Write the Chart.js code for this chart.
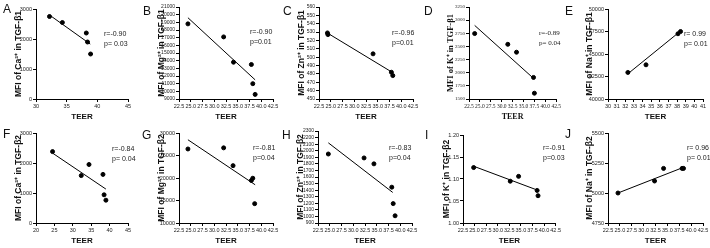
<!DOCTYPE html>
<html>
<head>
<meta charset="utf-8">
<script src="https://cdn.jsdelivr.net/npm/chart.js@4.4.0/dist/chart.umd.min.js"></script>
<style>
body { margin: 0; background: #fff; width: 710px; height: 248px; position: relative; overflow: hidden; }
canvas { position: absolute; }
.letter { position: absolute; font: 12px 'Liberation Sans', Arial, sans-serif; line-height: 12px; color: #111; }
.stat { position: absolute; font: 7px 'Liberation Sans Narrow', 'Liberation Sans', sans-serif; line-height: 10px; color: #222; white-space: pre; }
.serif { font-family: 'Liberation Serif', serif; }
</style>
</head>
<body>
<script>
// data: TEER (x) vs MFI (y), plus the drawn fit line ends
const teerA = [32.2, 34.3, 38.2, 38.4, 38.9];
const mfiA = [2750, 2550, 2200, 1900, 1500];
const fitTeerA = [32.2, 38.85];
const fitMfiA = [2800, 1830];

const teerB = [24.4, 32.0, 34.1, 37.9, 38.2, 38.7];
const mfiB = [18800, 17100, 13800, 13500, 11000, 9600];
const fitTeerB = [24.4, 38.7];
const fitMfiB = [19600, 11500];

const teerC = [24.3, 24.4, 34.0, 37.9, 38.2];
const mfiC = [529, 527, 504, 482, 478];
const fitTeerC = [24.4, 38.2];
const fitMfiC = [528.5, 481.5];

const teerD = [23.8, 31.4, 33.4, 37.3, 37.5];
const mfiD = [2745, 2540, 2390, 1910, 1610];
const fitTeerD = [23.8, 37.4];
const fitMfiD = [2900, 1885];

const teerE = [32.3, 34.4, 38.1, 38.4];
const mfiE = [42950, 43800, 47250, 47500];
const fitTeerE = [32.3, 38.4];
const fitMfiE = [42800, 47550];

const teerF = [24.5, 32.3, 34.4, 38.2, 38.5, 39.0];
const mfiF = [2380, 1580, 1950, 1620, 940, 760];
const fitTeerF = [24.5, 39.0];
const fitMfiF = [2330, 1130];

const teerG = [24.4, 32.0, 34.0, 37.9, 38.2, 38.6];
const mfiG = [26450, 26700, 22750, 19450, 19950, 14300];
const fitTeerG = [24.4, 38.7];
const fitMfiG = [28500, 18500];

const teerH = [24.7, 32.3, 34.4, 38.2, 38.5, 38.9];
const mfiH = [1950, 1890, 1800, 1445, 1195, 1010];
const fitTeerH = [24.7, 38.4];
const fitMfiH = [2120, 1365];

const teerI = [24.8, 32.7, 34.5, 38.5, 38.7];
const mfiI = [1.126, 1.095, 1.106, 1.074, 1.062];
const fitTeerI = [24.8, 38.5];
const fitMfiI = [1.129, 1.075];

const teerJ = [24.6, 32.3, 34.2, 38.1, 38.4];
const mfiJ = [5000, 5100, 5205, 5205, 5205];
const fitTeerJ = [24.6, 38.4];
const fitMfiJ = [5000, 5214];

// tick labels
const teerTicks = ['22.5', '25.0', '27.5', '30.0', '32.5', '35.0', '37.5', '40.0', '42.5'];
const xTicksA = ['30', '35', '40', '45'];
const xTicksE = ['30', '31', '32', '33', '34', '35', '36', '37', '38', '39', '40', '41'];
const xTicksF = ['20', '25', '30', '35', '40', '45'];
const yTicksA = ['0', '1000', '2000', '3000'];
const yTicksB = ['9000', '10000', '11000', '12000', '13000', '14000', '15000', '16000', '17000', '18000', '19000', '20000', '21000'];
const yTicksC = ['450', '460', '470', '480', '490', '500', '510', '520', '530', '540', '550', '560'];
const yTicksD = ['1500', '1750', '2000', '2250', '2500', '2750', '3000', '3250'];
const yTicksE = ['40000', '42500', '45000', '47500', '50000'];
const yTicksG = ['10000', '15000', '20000', '25000', '30000'];
const yTicksH = ['900', '1000', '1100', '1200', '1300', '1400', '1500', '1600', '1700', '1800', '1900', '2000', '2100', '2200', '2300'];
const yTicksI = ['1.00', '1.05', '1.10', '1.15', '1.20'];
const yTicksJ = ['4750', '5000', '5250', '5500'];

const panelIds = ['A', 'B', 'C', 'D', 'E', 'F', 'G', 'H', 'I', 'J'];
const yTitles = [
  'MFI of Ca²⁺ in TGF-β1', 'MFI of Mg²⁺ in TGF-β1', 'MFI of Zn²⁺ in TGF-β1', 'MFI of K⁺ in TGF-β1', 'MFI of Na⁺ in TGF-β1',
  'MFI of Ca²⁺ in TGF-β2', 'MFI of Mg²⁺ in TGF-β2', 'MFI of Zn²⁺ in TGF-β2', 'MFI of K⁺ in TGF-β2', 'MFI of Na⁺ in TGF-β2'
];
const rTexts = ['r=-0.90', 'r=-0.90', 'r=-0.96', 'r=-0.89', 'r= 0.99', 'r=-0.84', 'r=-0.81', 'r=-0.83', 'r=-0.91', 'r= 0.96'];
const pTexts = ['p= 0.03', 'p=0.01', 'p=0.01', 'p= 0.04', 'p= 0.01', 'p= 0.04', 'p=0.04', 'p=0.04', 'p=0.03', 'p= 0.01'];

// layout of each panel (pixel boxes of the axes)
const panels = [
  { left: 0,   top: 0,   w: 142, ax: 36,  at: 9,   ar: 128, ab: 99,  tx: 19,  sx: 104, sy: 29,  lx: 3,   ly: 3,   x: teerA, y: mfiA, fx: fitTeerA, fy: fitMfiA, xt: xTicksA, yt: yTicksA },
  { left: 140, top: 0,   w: 142, ax: 179, at: 7,   ar: 273, ab: 99,  tx: 161.5, sx: 250, sy: 27, lx: 143, ly: 5,   x: teerB, y: mfiB, fx: fitTeerB, fy: fitMfiB, xt: teerTicks, yt: yTicksB },
  { left: 280, top: 0,   w: 142, ax: 319, at: 7,   ar: 413, ab: 99,  tx: 302, sx: 392, sy: 28,  lx: 283, ly: 5,   x: teerC, y: mfiC, fx: fitTeerC, fy: fitMfiC, xt: teerTicks, yt: yTicksC },
  { left: 420, top: 0,   w: 142, ax: 469, at: 7,   ar: 563, ab: 99,  tx: 451, sx: 539, sy: 28,  lx: 424, ly: 5,   x: teerD, y: mfiD, fx: fitTeerD, fy: fitMfiD, xt: teerTicks, yt: yTicksD, serif: true },
  { left: 560, top: 0,   w: 150, ax: 608, at: 9,   ar: 703, ab: 99,  tx: 590, sx: 684, sy: 29,  lx: 565, ly: 5,   x: teerE, y: mfiE, fx: fitTeerE, fy: fitMfiE, xt: xTicksE, yt: yTicksE },
  { left: 0,   top: 124, w: 142, ax: 36,  at: 133, ar: 128, ab: 223, tx: 19,  sx: 112, sy: 144, lx: 3,   ly: 128, x: teerF, y: mfiF, fx: fitTeerF, fy: fitMfiF, xt: xTicksF, yt: yTicksA },
  { left: 140, top: 124, w: 142, ax: 179, at: 133, ar: 273, ab: 223, tx: 161.5, sx: 253, sy: 143, lx: 142, ly: 129, x: teerG, y: mfiG, fx: fitTeerG, fy: fitMfiG, xt: teerTicks, yt: yTicksG },
  { left: 280, top: 124, w: 142, ax: 318, at: 131, ar: 412, ab: 223, tx: 300.5, sx: 389, sy: 143, lx: 282, ly: 129, x: teerH, y: mfiH, fx: fitTeerH, fy: fitMfiH, xt: teerTicks, yt: yTicksH },
  { left: 420, top: 124, w: 142, ax: 463, at: 135, ar: 557, ab: 223, tx: 447, sx: 543, sy: 143, lx: 425, ly: 129, x: teerI, y: mfiI, fx: fitTeerI, fy: fitMfiI, xt: teerTicks, yt: yTicksI },
  { left: 560, top: 124, w: 150, ax: 608, at: 133, ar: 703, ab: 223, tx: 590, sx: 687, sy: 143, lx: 565, ly: 128, x: teerJ, y: mfiJ, fx: fitTeerJ, fy: fitMfiJ, xt: teerTicks, yt: yTicksJ }
];

const H = 124;

function tickSet(labels) {
  return function (scale) {
    scale.ticks = labels.map(function (t) { return { value: parseFloat(t) }; });
  };
}

panels.forEach(function (p, i) {
  const cv = document.createElement('canvas');
  cv.width = p.w;
  cv.height = H;
  cv.style.left = p.left + 'px';
  cv.style.top = p.top + 'px';
  document.body.appendChild(cv);

  const sans = "'Liberation Sans', Arial, sans-serif";
  const narrow = "'Liberation Sans Narrow', 'Liberation Sans', sans-serif";
  const serif = "'Liberation Serif', 'Times New Roman', serif";
  const tickFam = p.serif ? serif : narrow;
  const yTickSize = (p.yt.length > 10 || p.serif) ? 5 : 5.5;

  const gridOpts = { display: true, drawOnChartArea: false, drawTicks: true, tickLength: 3, color: '#000', lineWidth: 1 };

  new Chart(cv, {
    type: 'scatter',
    data: {
      datasets: [
        {
          data: p.x.map(function (v, k) { return { x: v, y: p.y[k] }; }),
          backgroundColor: '#000',
          borderColor: '#000',
          pointRadius: 2,
          pointHoverRadius: 2
        },
        {
          type: 'line',
          showLine: true,
          data: p.fx.map(function (v, k) { return { x: v, y: p.fy[k] }; }),
          borderColor: '#000',
          borderWidth: 1,
          pointRadius: 0,
          fill: false,
          tension: 0
        }
      ]
    },
    options: {
      responsive: false,
      animation: false,
      events: [],
      plugins: { legend: { display: false }, tooltip: { enabled: false } },
      layout: { padding: { left: 0, top: p.at - p.top, right: p.left + p.w - p.ar, bottom: 0 } },
      scales: {
        x: {
          type: 'linear',
          min: parseFloat(p.xt[0]),
          max: parseFloat(p.xt[p.xt.length - 1]),
          afterBuildTicks: tickSet(p.xt),
          afterFit: function (s) { s.height = H - (p.ab - p.top); },
          ticks: {
            autoSkip: false, maxRotation: 0, minRotation: 0, padding: 1, color: '#222',
            font: { family: tickFam, size: 5.5 },
            callback: function (v, k) { return p.xt[k]; }
          },
          grid: gridOpts,
          border: { display: true, color: '#000', width: 1 },
          title: {
            display: true, text: 'TEER', color: '#111',
            font: { family: p.serif ? serif : narrow, size: 8, weight: 'bold' },
            padding: { top: 0, bottom: 2.2 }
          }
        },
        y: {
          type: 'linear',
          min: parseFloat(p.yt[0]),
          max: parseFloat(p.yt[p.yt.length - 1]),
          afterBuildTicks: tickSet(p.yt),
          afterFit: function (s) { s.width = p.ax - p.left; },
          ticks: {
            autoSkip: false, padding: 1, color: '#222',
            font: { family: tickFam, size: yTickSize },
            callback: function (v, k) { return p.yt[k]; }
          },
          grid: gridOpts,
          border: { display: true, color: '#000', width: 1 },
          title: {
            display: true, text: yTitles[i], color: '#111',
            font: { family: p.serif ? serif : sans, size: 8.5, weight: 'bold' },
            padding: { top: p.tx - p.left - 5.1, bottom: 0 }
          }
        }
      }
    }
  });

  const letter = document.createElement('div');
  letter.className = 'letter';
  letter.textContent = panelIds[i];
  letter.style.left = p.lx + 'px';
  letter.style.top = p.ly + 'px';
  document.body.appendChild(letter);

  const stat = document.createElement('div');
  stat.className = 'stat' + (p.serif ? ' serif' : '');
  stat.textContent = rTexts[i] + '\n' + pTexts[i];
  stat.style.left = p.sx + 'px';
  stat.style.top = p.sy + 'px';
  document.body.appendChild(stat);
});
</script>
</body>
</html>
